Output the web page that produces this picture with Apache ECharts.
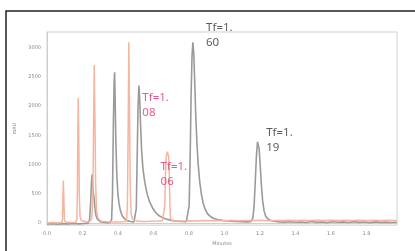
<!DOCTYPE html>
<html>
<head>
<meta charset="utf-8">
<script src="https://cdn.jsdelivr.net/npm/echarts@6/dist/echarts.min.js"></script>
<style>
html,body{margin:0;padding:0;background:#fff;}
#c{width:415px;height:251px;}
</style>
</head>
<body>
<div id="c"></div>
<script>
// Tick labels
const xTicks = [0, 0.2, 0.4, 0.6, 0.8, 1.0, 1.2, 1.4, 1.6, 1.8];
const yTicks = [0, 500, 1000, 1500, 2000, 2500, 3000];

// Gray chromatogram trace [minutes, mAU]
const grayTrace = [
  [0.00,-15],[0.03,-10],[0.06,-18],[0.09,-8],[0.12,-14],[0.15,-6],[0.18,-12],[0.21,-5],[0.232,0],
  [0.240,60],[0.245,300],[0.250,660],[0.254,830],[0.258,640],[0.262,500],[0.266,420],[0.270,260],
  [0.276,130],[0.283,70],[0.29,40],[0.30,25],[0.32,15],[0.34,10],[0.355,12],
  [0.364,60],[0.369,500],[0.374,1700],[0.378,2400],[0.381,2580],[0.384,2100],[0.388,1400],
  [0.393,850],[0.399,520],[0.405,350],[0.413,220],[0.423,130],[0.435,80],[0.45,45],[0.47,28],[0.49,22],[0.498,30],
  [0.503,250],[0.508,1100],[0.513,2000],[0.518,2350],[0.522,2150],[0.527,1700],[0.533,1250],
  [0.540,950],[0.548,760],[0.557,600],[0.567,470],[0.58,350],[0.595,260],[0.61,190],[0.63,130],
  [0.65,95],[0.67,70],[0.70,48],[0.73,35],[0.76,28],[0.785,25],[0.795,45],
  [0.801,300],[0.807,1200],[0.812,2200],[0.817,2850],[0.822,3090],[0.827,2900],[0.832,2450],
  [0.838,1850],[0.845,1350],[0.852,1000],[0.86,720],[0.87,490],[0.88,340],[0.892,230],[0.905,160],
  [0.92,115],[0.94,80],[0.96,62],[0.99,48],[1.02,38],[1.06,30],[1.10,24],[1.13,22],[1.150,30],
  [1.160,90],[1.167,300],[1.174,750],[1.180,1150],[1.186,1390],[1.190,1400],[1.195,1280],
  [1.201,1000],[1.208,650],[1.215,380],[1.223,210],[1.232,120],[1.245,70],[1.26,45],[1.28,32],
  [1.31,22],[1.34,18],[1.37,25],[1.40,15],[1.43,20],[1.46,12],[1.49,28],[1.52,14],[1.55,20],
  [1.58,10],[1.61,24],[1.64,15],[1.67,22],[1.70,12],[1.73,26],[1.76,14],[1.79,20],[1.82,10],
  [1.85,22],[1.88,14],[1.91,18],[1.94,12],[1.97,16]
];

// Salmon chromatogram trace [minutes, mAU]
const salmonTrace = [
  [0.00,5],[0.03,10],[0.06,6],[0.082,10],[0.087,60],[0.090,480],[0.092,730],[0.095,420],[0.098,60],
  [0.104,18],[0.13,12],[0.16,15],[0.168,60],[0.171,500],[0.174,1600],[0.176,2145],[0.179,1500],
  [0.182,500],[0.186,120],[0.192,50],[0.20,30],[0.22,22],[0.24,30],[0.252,70],[0.258,400],
  [0.262,1500],[0.266,2705],[0.270,1800],[0.274,700],[0.279,220],[0.286,100],[0.295,55],
  [0.31,35],[0.34,25],[0.37,20],[0.40,22],[0.43,25],[0.448,40],[0.453,300],[0.457,1500],
  [0.461,3090],[0.465,1900],[0.469,600],[0.474,160],[0.482,70],[0.49,45],[0.51,35],[0.54,30],
  [0.58,32],[0.62,35],[0.65,40],[0.660,70],[0.664,300],[0.667,800],[0.671,1120],[0.678,1220],
  [0.685,1150],[0.689,850],[0.692,350],[0.696,90],[0.702,50],[0.72,40],[0.76,38],[0.80,42],
  [0.84,38],[0.88,45],[0.92,40],[0.96,46],[1.00,42],[1.04,48],[1.08,42],[1.12,46],[1.16,44],
  [1.20,48],[1.24,42],[1.28,46],[1.32,44],[1.36,50],[1.40,44],[1.44,48],[1.48,45],[1.52,50],
  [1.56,46],[1.60,49],[1.64,44],[1.68,50],[1.72,46],[1.76,48],[1.80,44],[1.84,50],[1.88,46],
  [1.92,48],[1.97,46]
];

// Tailing factor annotations [minutes, mAU (label centre), text, colour]
const annotations = [
  [0.896, 3208, 'Tf=1.\n60', '#333333'],
  [0.537, 2017, 'Tf=1.\n08', '#e0336a'],
  [0.640, 842,  'Tf=1.\n06', '#e0336a'],
  [1.235, 1425, 'Tf=1.\n19', '#333333']
];

const chart = echarts.init(document.getElementById('c'), null, {renderer:'canvas'});
const tickFont = {fontSize:5, color:'#888', fontFamily:'DejaVu Sans'};

chart.setOption({
  animation:false,
  backgroundColor:'#fff',
  graphic:[{
    type:'rect', shape:{x:6, y:11, width:420, height:260},
    style:{fill:'none', stroke:'#222', lineWidth:1.5}, silent:true, z:-1
  }],
  grid:{left:47, right:18, top:32, bottom:21, show:true, borderColor:'#cfcfcf', borderWidth:1, backgroundColor:'#fff'},
  xAxis:{
    type:'value', min:0, max:1.972,
    name:'Minutes', nameLocation:'middle', nameGap:13,
    nameTextStyle:{fontSize:5, color:'#888', fontFamily:'DejaVu Sans'},
    axisLine:{show:true, lineStyle:{color:'#cfcfcf'}},
    axisTick:{show:false},
    splitLine:{show:false},
    axisLabel:Object.assign({customValues:xTicks, margin:6, formatter:v=>v.toFixed(1)}, tickFont)
  },
  yAxis:{
    type:'value', min:-33, max:3267,
    name:'mAU', nameLocation:'middle', nameGap:24, nameRotate:90,
    nameTextStyle:{fontSize:5, color:'#888', fontFamily:'DejaVu Sans'},
    axisLine:{show:true, lineStyle:{color:'#cfcfcf'}},
    axisTick:{show:false},
    splitLine:{show:false},
    axisLabel:Object.assign({customValues:yTicks, margin:6, formatter:v=>String(v)}, tickFont)
  },
  series:[
    {type:'line', data:grayTrace, showSymbol:false, symbol:'none',
     lineStyle:{color:'#9a9a9a', width:1.6}, z:2},
    {type:'line', data:salmonTrace, showSymbol:false, symbol:'none',
     lineStyle:{color:'#f6b5a0', width:1.5}, z:3},
    {type:'scatter', symbolSize:0, z:5,
     data:annotations.map(a=>({value:[a[0],a[1]], label:{formatter:a[2], color:a[3]}})),
     label:{show:true, position:'right', distance:0, fontSize:11.5, lineHeight:15,
            fontFamily:'Noto Sans'}}
  ]
});
</script>
</body>
</html>
